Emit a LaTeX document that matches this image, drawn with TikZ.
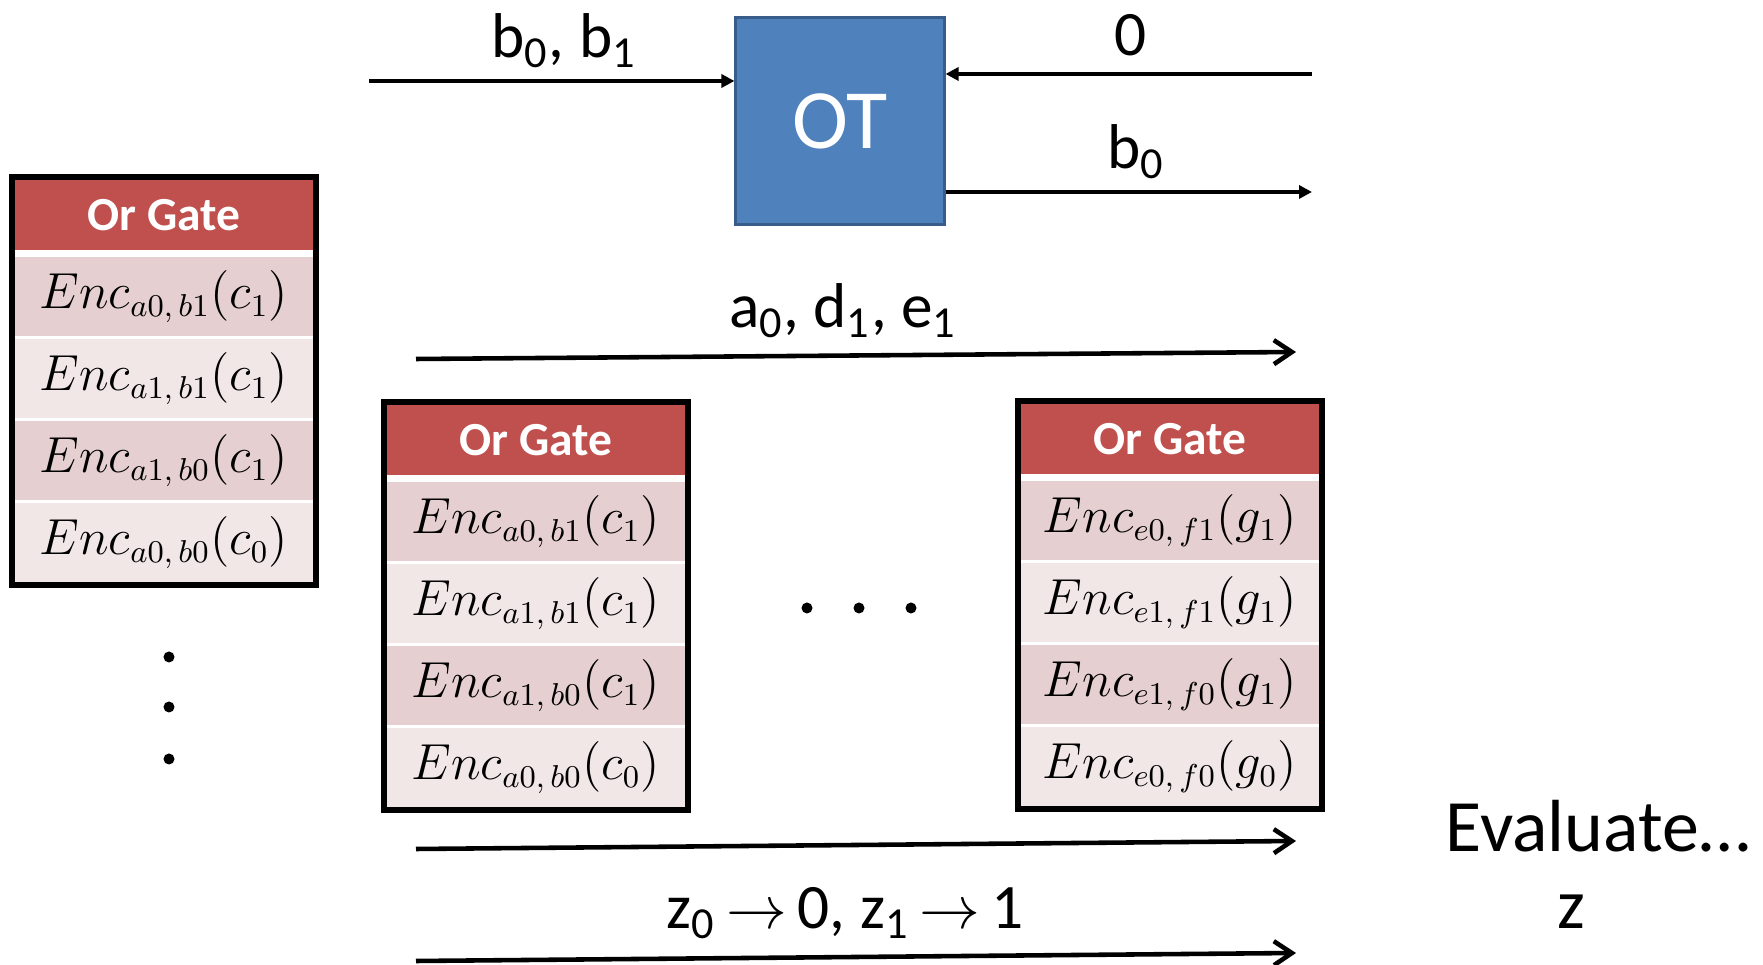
\documentclass[tikz,border=0pt]{standalone}
\usepackage{fontspec}
\setmainfont{Carlito}
\usetikzlibrary{positioning,fit,arrows.meta}
\definecolor{otblue}{HTML}{4F81BD}
\definecolor{otedge}{HTML}{385D8A}
\definecolor{gatered}{HTML}{C0504D}
\definecolor{rowdark}{HTML}{E6CFD0}
\definecolor{rowlight}{HTML}{F2E7E7}
\tikzset{
  gatehead/.style={fill=gatered, text=white, font=\fontsize{13.5}{16}\selectfont\bfseries,
    minimum width=2.98cm, minimum height=0.70cm, inner sep=0pt, outer sep=0pt},
  encrow/.style={minimum width=2.98cm, minimum height=0.79cm, inner sep=0pt, outer sep=0pt,
    font=\fontsize{13.5}{16}\selectfont},
  encdark/.style={encrow, fill=rowdark},
  enclight/.style={encrow, fill=rowlight},
  gateframe/.style={draw=black, line width=0.06cm, inner sep=0.03cm},
  otwire/.style={line width=1pt, -{Triangle[length=0.13cm,width=0.13cm]}},
  sendwire/.style={line width=1.3pt, -{Straight Barb[length=0.18cm,width=0.24cm]}},
  wirelabel/.style={anchor=base, inner sep=0pt, font=\fontsize{18}{21}\selectfont}
}
\begin{document}
\begin{tikzpicture}[x=0.01cm,y=-0.01cm]
\useasboundingbox (0,0) rectangle (1763,965);

\node[draw=otedge, line width=0.85pt, fill=otblue, minimum width=2.08cm, minimum height=2.07cm,
  text=white, font=\fontsize{24}{28}\selectfont] (ot) at (840,121) {OT};

\coordinate (bin) at (369,81);
\coordinate (zin) at (1312,74);
\coordinate (bout) at (1312,192);
\draw[otwire] (bin) -- (bin -| ot.west);
\draw[otwire] (zin) -- (zin -| ot.east);
\draw[otwire] (bout -| ot.east) -- (bout);
\node[wirelabel] (bbits) at (564,58) {b\textsubscript{0}, b\textsubscript{1}};
\node[wirelabel] (zbit) at (1131,56) {0};
\node[wirelabel] (bres) at (1136,169) {b\textsubscript{0}};

\coordinate (k1s) at (416,359);
\coordinate (k1e) at (1296,352);
\draw[sendwire] (k1s) -- (k1e);
\node[wirelabel] (keys) at (843,328) {a\textsubscript{0}, d\textsubscript{1}, e\textsubscript{1}};

\foreach \tb/\tx/\ty/\pa/\pb/\pc in {l/164/215/a/b/c, m/536/440/a/b/c, r/1170/439/e/f/g}{
  \node[gatehead] (\tb h) at (\tx,\ty) {Or Gate};
  \node[encdark, below=0.07cm of \tb h] (\tb1) {$Enc_{\pa0,\,\pb1}(\pc_1)$};
  \node[enclight, below=0.03cm of \tb1] (\tb2) {$Enc_{\pa1,\,\pb1}(\pc_1)$};
  \node[encdark, below=0.03cm of \tb2] (\tb3) {$Enc_{\pa1,\,\pb0}(\pc_1)$};
  \node[enclight, below=0.03cm of \tb3] (\tb4) {$Enc_{\pa0,\,\pb0}(\pc_0)$};
  \node[gateframe, fit=(\tb h)(\tb4)] (\tb gate) {};
}

\foreach \dx in {807,859,911} \fill (\dx,608) circle (0.055cm);
\foreach \dy in {657,707,759} \fill (169,\dy) circle (0.055cm);

\coordinate (k2s) at (416,849);
\coordinate (k2e) at (1296,841);
\draw[sendwire] (k2s) -- (k2e);

\coordinate (k3s) at (416,961);
\coordinate (k3e) at (1296,953);
\draw[sendwire] (k3s) -- (k3e);
\node[wirelabel] (zmap) at (845,929)
  {z\textsubscript{0}\,$\rightarrow$\,0, z\textsubscript{1}\,$\rightarrow$\,1};

\node[anchor=base, inner sep=0pt, font=\fontsize{21}{25}\selectfont] (eval) at (1598,852) {Evaluate…};
\node[anchor=base, inner sep=0pt, font=\fontsize{20}{24}\selectfont] (zout) at (1571,929) {z};
\end{tikzpicture}
\end{document}
